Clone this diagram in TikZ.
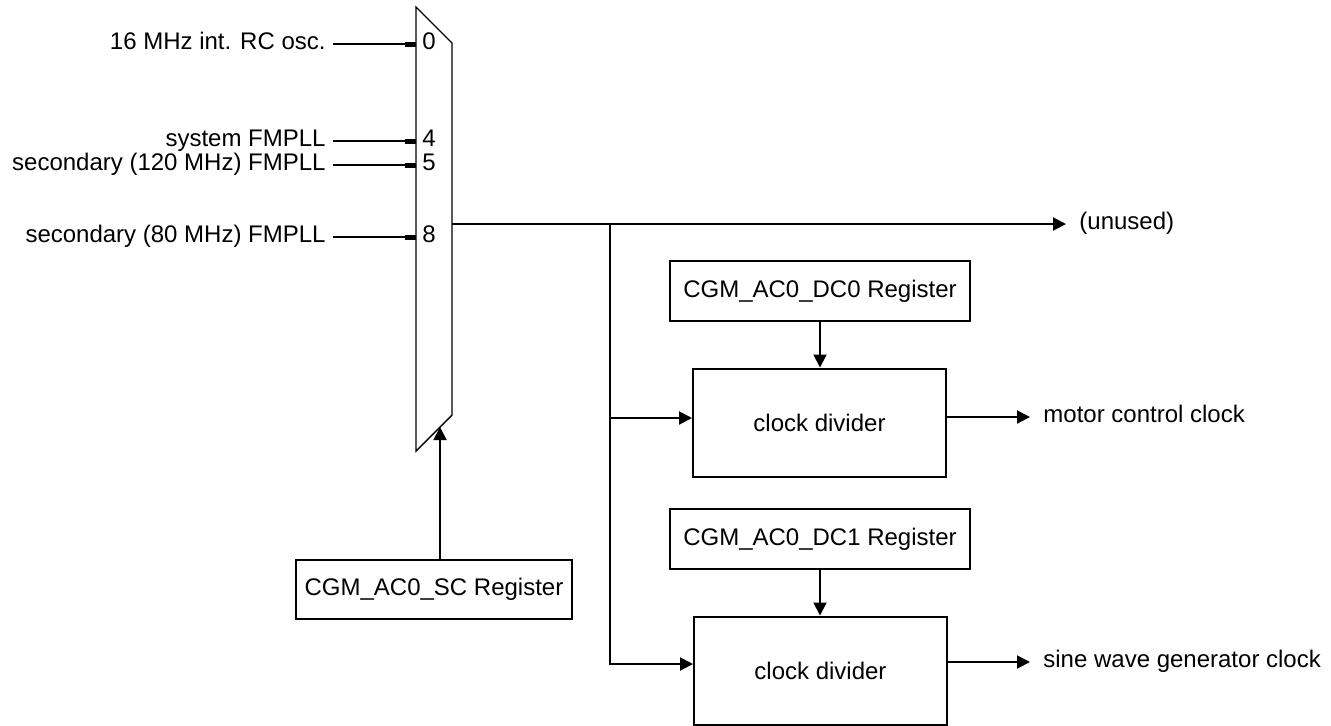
\documentclass[tikz,border=0pt]{standalone}
\usepackage{fontspec}
\setmainfont{Liberation Sans}
\usetikzlibrary{arrows.meta,calc}

\begin{document}
\begin{tikzpicture}[x=0.5pt, y=-0.5pt, font=\fontsize{12}{14}\selectfont,
    reg/.style={draw, line width=1pt, minimum width=150pt, minimum height=30pt, inner sep=0pt},
    divbox/.style={draw, line width=1pt, minimum width=126.5pt, minimum height=54pt, inner sep=0pt},
    lbl/.style={inner ysep=0pt, text height=8pt, text depth=3pt},
    sig/.style={line width=1pt, -{Triangle[length=6.5pt,width=6.5pt]}},
    pin/.style={line width=1pt, -{Rectangle[length=5.5pt,width=2.5pt]}}]
    \useasboundingbox (0,0) rectangle (1331,725);
    % multiplexer
    \coordinate (M1) at (416,7); \coordinate (M2) at (452,43);
    \coordinate (M3) at (452,415); \coordinate (M4) at (416,451);
    \draw[line width=0.7pt] (M1) -- (M2) -- (M3) -- (M4) -- cycle;
    \coordinate (sel) at (440,427); \coordinate (out) at (452,224); \coordinate (tap) at (610,224);

    % clock sources
    \foreach \y/\n/\txt in {44/0/16 MHz int. RC osc., 141/4/system FMPLL,
        165/5/secondary (120 MHz) FMPLL, 237/8/secondary (80 MHz) FMPLL} {
        \coordinate (in\n) at (416,\y);
        \node[lbl, anchor=east, inner xsep=3.5pt] (src\n) at (333,\y) {\txt};
        \node[lbl, anchor=west, inner xsep=0pt] (num\n) at (422,\y) {\n};
        \draw[pin] (src\n.east) -- (in\n);
    }

    % registers and dividers
    \node[reg, minimum width=138pt, minimum height=29.5pt] (sc) at (434,589.5) {CGM\_AC0\_SC Register};
    \node[reg] (dc0) at (820,291) {CGM\_AC0\_DC0 Register};
    \node[divbox] (div0) at (819.5,422.5) {clock divider};
    \node[reg] (dc1) at (820,539) {CGM\_AC0\_DC1 Register};
    \node[divbox] (div1) at (820.5,670.5) {clock divider};

    % outputs
    \node[lbl, anchor=west, inner xsep=6.5pt] (unused) at (1066,224) {(unused)};
    \node[lbl, anchor=west, inner xsep=6.5pt] (mcc) at (1030,417) {motor control clock};
    \node[lbl, anchor=west, inner xsep=6.5pt] (swg) at (1030,662) {sine wave generator clock};

    \draw[sig] (sc.north -| sel) -- (sel);
    \draw[sig] (out) -- (unused.west);
    \draw[sig] (tap) |- ([yshift=2.25pt]div0.west);
    \draw[sig] (tap) |- ([yshift=3.25pt]div1.west);
    \draw[sig] (dc0.south) -- (dc0.south |- div0.north);
    \draw[sig] (dc1.south) -- (dc1.south |- div1.north);
    \draw[sig] (div0.east |- mcc.west) -- (mcc.west);
    \draw[sig] (div1.east |- swg.west) -- (swg.west);
\end{tikzpicture}
\end{document}
